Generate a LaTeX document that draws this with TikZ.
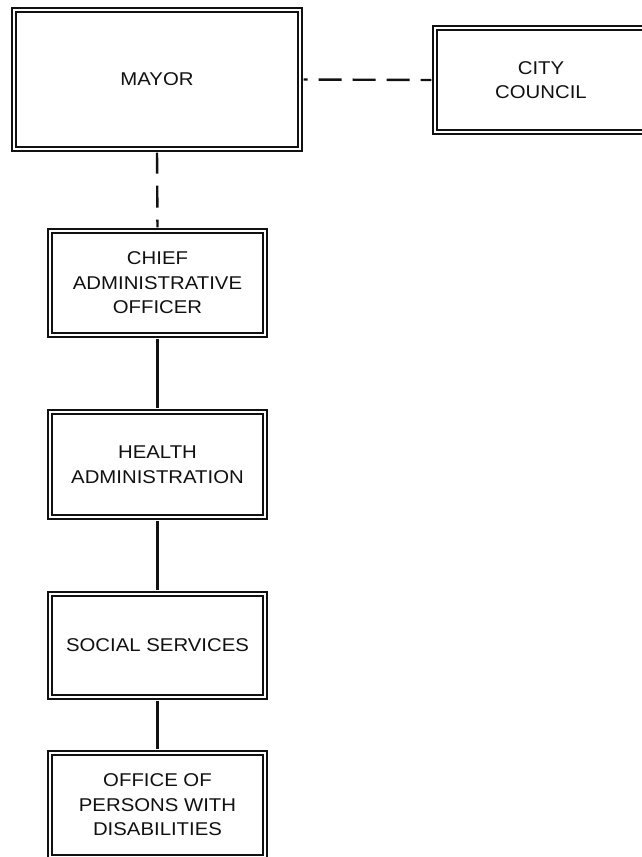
\documentclass[tikz,border=0pt]{standalone}
\usepackage{fontspec}
\setmainfont{Liberation Sans}[FakeStretch=1.1]
\usepackage{tikz}
\usetikzlibrary{positioning, calc}
\definecolor{boxLine}{HTML}{111111}
\definecolor{boxText}{HTML}{111111}
\tikzset{
  office/.style={draw=boxLine, double=white, line width=2.1pt, double distance=2pt,
                 fill=white, align=center, text=boxText, inner sep=0pt,
                 font=\fontsize{18.5}{24.5}\selectfont},
  link/.style={draw=boxLine, line width=2.4pt, shorten <=2.5pt, shorten >=2.5pt},
  dotted link/.style={link, dash pattern=on 23pt off 11pt},
}
\begin{document}
\begin{tikzpicture}[x=1pt, y=-1pt]
\useasboundingbox (0,0) rectangle (642,857);
\clip (0,0) rectangle (642,857);

% top row
\node[office, minimum width=286pt, minimum height=139pt] (mayor) at (157, 79.5) {MAYOR};
\node[office, minimum width=212pt, minimum height=104pt] (council) at (541, 80) {CITY\\COUNCIL};

% chain of offices
\node[office, minimum width=215pt, minimum height=104pt] (cao) at (157.5, 283) {CHIEF\\ADMINISTRATIVE\\OFFICER};
\node[office, minimum width=215pt, minimum height=105pt] (health) at (157.5, 464.5) {HEALTH\\ADMINISTRATION};
\node[office, minimum width=215pt, minimum height=103pt] (social) at (157.5, 645.5) {SOCIAL SERVICES};
\node[office, minimum width=215pt, minimum height=104pt] (disab) at (157.5, 805) {OFFICE OF\\PERSONS WITH\\DISABILITIES};

% dashed links
\draw[dotted link, dash phase=19pt] (mayor.east) -- (council.west);
\draw[dotted link, dash pattern=on 22pt off 12pt, dash phase=1pt] (mayor.south) -- (cao.north);

% solid links
\draw[link] (cao.south) -- (health.north);
\draw[link] (health.south) -- (social.north);
\draw[link] (social.south) -- (disab.north);

\end{tikzpicture}
\end{document}
